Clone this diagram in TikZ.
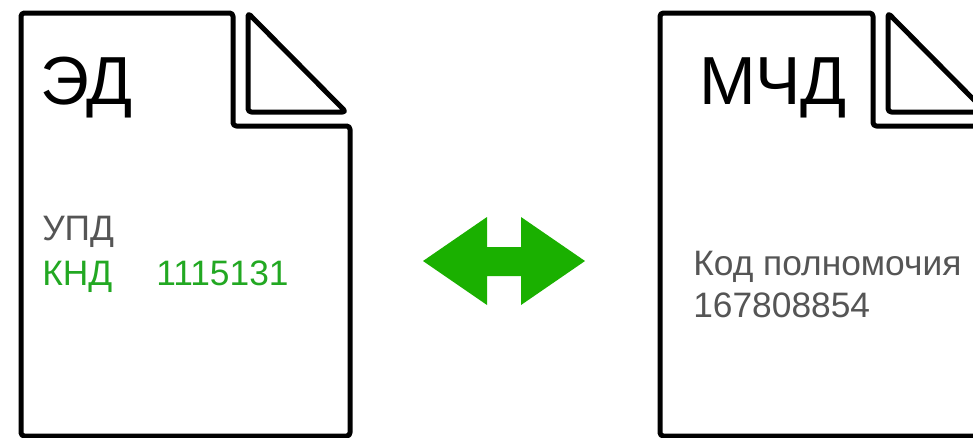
\documentclass[tikz,border=0pt]{standalone}
\usepackage{xcolor}
\usepackage{fontspec}
\setmainfont{Liberation Sans}
\usepackage{tikz}
\usetikzlibrary{positioning}
\definecolor{arrowgreen}{HTML}{1AB000}
\definecolor{txtgreen}{HTML}{22A822}
\definecolor{txtgray}{HTML}{555555}
\tikzset{docline/.style={line width=3.75pt, rounded corners=2.5pt, line join=round},
  bigtxt/.style={anchor=base west, inner sep=0pt, font=\fontsize{51}{60}\selectfont},
  smalltxt/.style={anchor=base west, inner sep=0pt, text=txtgray, font=\fontsize{26.5}{32}\selectfont}}

\begin{document}
\begin{tikzpicture}[x=0.75pt,y=-0.75pt]
\useasboundingbox (0,0) rectangle (973,437);
\clip (0,0) rectangle (973,437);
% left document
\draw[docline] (21,436) -- (21,13) -- (233,13) -- (233,126) -- (350,126) -- (350,436) -- cycle;
\draw[docline] (248,13) -- (248,112) -- (346,112) -- cycle;
\node[bigtxt] (ed) at (40,104) {ЭД};
\node[smalltxt] (upd) at (42,240) {УПД};
\node[smalltxt, text=txtgreen] (knd) at (42,285) {КНД};
\node[smalltxt, text=txtgreen] (kndnum) at (156,285) {1115131};
% right document
\draw[docline] (660,436) -- (660,13) -- (873,13) -- (873,126) -- (990,126) -- (990,436) -- cycle;
\draw[docline] (888,13) -- (888,112) -- (986,112) -- cycle;
\node[bigtxt] (mchd) at (699,104) {МЧД};
\node[smalltxt] (kod) at (693,275) {Код полномочия};
\node[smalltxt] (kodnum) at (693,317) {167808854};
% double arrow
\fill[arrowgreen] (423,261) -- (487,217) -- (487,247) -- (521,247) -- (521,217) -- (585,261)
  -- (521,305) -- (521,276) -- (487,276) -- (487,305) -- cycle;
\end{tikzpicture}
\end{document}
